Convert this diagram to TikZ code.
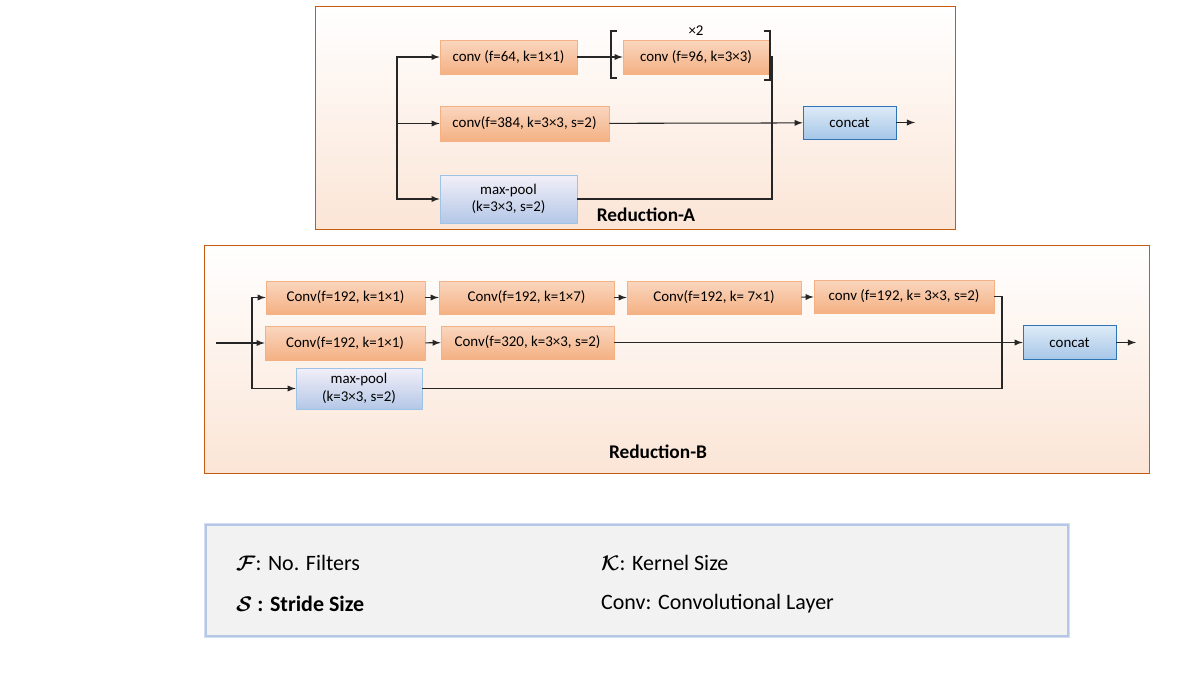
\documentclass[tikz,border=0pt]{standalone}
\usepackage{amsmath,amsfonts}
\usepackage{fontspec}
\setmainfont{Carlito}
\usepackage{tikz}
\usetikzlibrary{arrows,calc}

\definecolor{frameor}{HTML}{C55A11}
\definecolor{paleor}{HTML}{FBE5D6}
\definecolor{convtop}{HTML}{FAD6BF}
\definecolor{convbot}{HTML}{F4B183}
\definecolor{pooltop}{HTML}{F2EFF8}
\definecolor{poolbot}{HTML}{B4C7E7}
\definecolor{poolline}{HTML}{9DC3E6}
\definecolor{cattop}{HTML}{DEEBF7}
\definecolor{catbot}{HTML}{A6C6E8}
\definecolor{catline}{HTML}{2E75B6}
\definecolor{legline}{HTML}{B4C7E7}
\definecolor{legfill}{HTML}{F2F2F2}

\tikzset{
  blockbox/.style 2 args={minimum width=#1*0.02cm, minimum height=#2*0.02cm,
    inner sep=0pt, font=\fontsize{8.5}{10}\selectfont, align=center},
  convbox/.style 2 args={blockbox={#1}{#2}, draw=convbot, top color=convtop, bottom color=convbot},
  poolbox/.style 2 args={blockbox={#1}{#2}, draw=poolline, top color=pooltop, bottom color=poolbot},
  catbox/.style 2 args={blockbox={#1}{#2}, draw=catline, top color=cattop, bottom color=catbot},
  link/.style={line width=0.6pt, black!85},
  title/.style={font=\fontsize{11}{13}\selectfont\bfseries},
  legtext/.style={anchor=west, font=\fontsize{12.5}{15}\selectfont}
}

\begin{document}
\begin{tikzpicture}[x=0.02cm, y=-0.02cm, >=latex]
    \useasboundingbox (0,0) rectangle (1201,680);
    % module frames
    \draw[frameor, top color=white, bottom color=paleor] (315,6) rectangle (955,229);
    \draw[frameor, top color=white, bottom color=paleor] (204,245) rectangle (1149,473);

    % Reduction-A
    \node[convbox={137}{34}] (a1) at (508.5,57) {conv (f=64,\ k=1×1)};
    \node[convbox={146}{34}] (a2) at (696,57) {conv (f=96,\ k=3×3)};
    \node[convbox={169}{35}] (a3) at (524.5,123.5) {conv(f=384,\ k=3×3,\ s=2)};
    \node[poolbox={137}{48}] (apool) at (508.5,199) {max-pool\\(k=3×3,\ s=2)};
    \node[catbox={93}{33}] (acat) at (849.5,122.5) {concat};
    \node[title] (atitle) at (646,215) {Reduction-A};
    \node[font=\fontsize{8.5}{10}\selectfont] (arep) at (696,31) {×2};
    \draw[link] (617,31) -- (611,31) -- (611,78) -- (617,78);
    \draw[link] (764,31) -- (770,31) -- (770,80) -- (764,80);
    \coordinate (aL) at (397,123.5);
    \coordinate (aR) at (772,123);
    \coordinate (aout) at (915,122.5);
    \draw[link,->] (aL) |- (a1);
    \draw[link,->] (aL) -- (a3);
    \draw[link,->] (aL) |- (apool);
    \draw[link,->] (a1) -- (a2);
    \draw[link] (a2) -| (aR);
    \draw[link] (apool) -| (aR);
    \draw[link] (a3) -- (aR);
    \draw[link,->] (aR) -- (acat);
    \draw[link,->] (acat) -- (aout);

    % Reduction-B
    \node[convbox={159}{33}] (b1) at (345.5,297.5) {Conv(f=192,\ k=1×1)};
    \node[convbox={175}{33}] (b2) at (526.5,297.5) {Conv(f=192,\ k=1×7)};
    \node[convbox={174}{33}] (b3) at (714,297.5) {Conv(f=192,\ k=\ 7×1)};
    \node[convbox={180}{33}] (b4) at (904,296.5) {conv (f=192,\ k=\ 3×3, s=2)};
    \node[convbox={160}{34}] (b5) at (345,343) {Conv(f=192,\ k=1×1)};
    \node[convbox={173}{33}] (b6) at (527.5,342.5) {Conv(f=320,\ k=3×3,\ s=2)};
    \node[poolbox={126}{41}] (bpool) at (359,388.5) {max-pool\\(k=3×3,\ s=2)};
    \node[catbox={93}{34}] (bcat) at (1069.5,342.5) {concat};
    \node[title] (btitle) at (658,452) {Reduction-B};
    \coordinate (bin) at (216,343);
    \coordinate (bL) at (252,343);
    \coordinate (bR) at (1002,342.5);
    \coordinate (bout) at (1136,342.5);
    \draw[link] (bin) -- (bL);
    \draw[link,->] (bL) |- (b1);
    \draw[link,->] (bL) -- (b5);
    \draw[link,->] (bL) |- (bpool);
    \draw[link,->] (b1) -- (b2);
    \draw[link,->] (b2) -- (b3);
    \draw[link,->] (b3) -- (b4);
    \draw[link,->] (b5) -- (b6);
    \draw[link] (b4) -| (bR);
    \draw[link] (bpool) -| (bR);
    \draw[link] (b6) -- (bR);
    \draw[link,->] (bR) -- (bcat);
    \draw[link,->] (bcat) -- (bout);

    % legend
    \draw[legline!60, line width=2.5pt] (206,525) rectangle (1068,636);
    \draw[legline, line width=1pt, fill=legfill] (206,525) rectangle (1068,636);
    \node[legtext] (lf) at (230,563) {$\boldsymbol{\mathcal{F}}$: No. Filters};
    \node[legtext] (lk) at (595,563) {$\boldsymbol{\mathcal{K}}$: Kernel Size};
    \node[legtext] (ls) at (230,604) {\bfseries $\boldsymbol{\mathcal{S}}$ : Stride Size};
    \node[legtext] (lc) at (595,604) {Conv: Convolutional Layer};
\end{tikzpicture}
\end{document}
